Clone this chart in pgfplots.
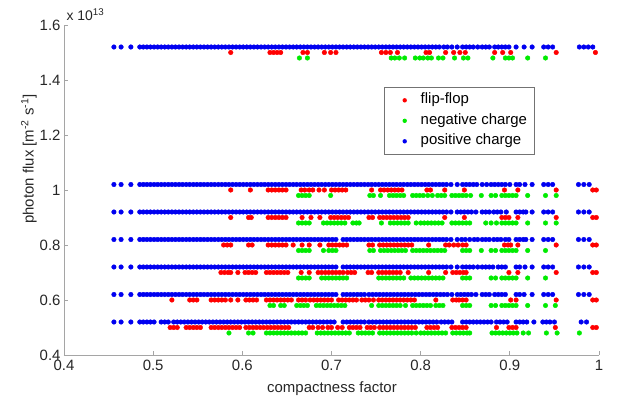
\documentclass[border=0pt]{standalone}
\usepackage{fontspec}
\setmainfont{Liberation Sans}
\usepackage{pgfplots}
\pgfplotsset{compat=1.18}
\definecolor{mred}{RGB}{255,0,0}
\definecolor{mgreen}{RGB}{0,235,0}
\definecolor{mblue}{RGB}{0,0,240}
\definecolor{axgray}{RGB}{165,165,165}
\begin{document}
\begin{tikzpicture}
\begin{axis}[
  scale only axis, width=535bp, height=330bp,
  xmin=0.4, xmax=1, ymin=0.4, ymax=1.6,
  axis x line*=bottom, axis y line*=left,
  axis line style={axgray, line width=0.9bp},
  xtick={0.4,0.5,0.6,0.7,0.8,0.9,1},
  ytick={0.4,0.6,0.8,1,1.2,1.4,1.6},
  tick align=inside, major tick length=4bp,
  tick style={axgray, line width=0.7bp},
  ticklabel style={font=\fontsize{15}{18}\selectfont, text=black!85},
  /pgf/number format/assume math mode=true,
  xticklabel style={yshift=-2bp},
  legend cell align=left,
  legend image code/.code={\path[draw=none,fill=none] (0bp,-1bp) rectangle (22bp,1bp); \fill[#1, draw=none] (14bp,0bp) circle (2.2bp);},
  legend style={at={(0.5989,0.8121)}, anchor=north west, draw=black!55, line width=0.6bp, fill=white,
    inner xsep=6bp, inner ysep=4.5bp, row sep=3.5bp, column sep=7bp,
    font=\fontsize{15}{18}\selectfont,
    nodes={inner sep=1bp, text height=11bp, text depth=4bp}},
]
% flip-flop (red)
\addplot[only marks, mark=*, mark size=2.3bp, color=mred] coordinates {
(0.587,1.5)(0.631,1.5)(0.635,1.5)(0.639,1.5)(0.643,1.5)(0.668,1.5)(0.673,1.5)(0.692,1.5)(0.699,1.5)(0.705,1.5)(0.756,1.5)(0.761,1.5)(0.766,1.5)(0.774,1.5)(0.806,1.5)(0.810,1.5)(0.828,1.5)(0.837,1.5)(0.844,1.5)(0.850,1.5)(0.883,1.5)(0.892,1.5)(0.901,1.5)(0.952,1.5)(0.996,1.5)
(0.587,1.0)(0.609,1.0)(0.629,1.0)(0.633,1.0)(0.637,1.0)(0.641,1.0)(0.645,1.0)(0.649,1.0)(0.666,1.0)(0.670,1.0)(0.675,1.0)(0.679,1.0)(0.686,1.0)(0.692,1.0)(0.700,1.0)(0.704,1.0)(0.708,1.0)(0.712,1.0)(0.716,1.0)(0.745,1.0)(0.755,1.0)(0.759,1.0)(0.763,1.0)(0.767,1.0)(0.771,1.0)(0.775,1.0)(0.779,1.0)(0.807,1.0)(0.811,1.0)(0.827,1.0)(0.849,1.0)(0.894,1.0)(0.909,1.0)(0.952,1.0)(0.993,1.0)(0.997,1.0)
(0.587,0.9)(0.607,0.9)(0.610,0.9)(0.629,0.9)(0.633,0.9)(0.637,0.9)(0.641,0.9)(0.645,0.9)(0.649,0.9)(0.667,0.9)(0.677,0.9)(0.687,0.9)(0.699,0.9)(0.703,0.9)(0.707,0.9)(0.711,0.9)(0.715,0.9)(0.719,0.9)(0.742,0.9)(0.746,0.9)(0.754,0.9)(0.758,0.9)(0.762,0.9)(0.766,0.9)(0.770,0.9)(0.774,0.9)(0.778,0.9)(0.782,0.9)(0.786,0.9)(0.827,0.9)(0.849,0.9)(0.891,0.9)(0.895,0.9)(0.899,0.9)(0.909,0.9)(0.952,0.9)(0.993,0.9)(0.997,0.9)
(0.579,0.8)(0.583,0.8)(0.587,0.8)(0.607,0.8)(0.611,0.8)(0.629,0.8)(0.633,0.8)(0.637,0.8)(0.641,0.8)(0.645,0.8)(0.649,0.8)(0.657,0.8)(0.667,0.8)(0.675,0.8)(0.687,0.8)(0.697,0.8)(0.701,0.8)(0.705,0.8)(0.709,0.8)(0.713,0.8)(0.717,0.8)(0.742,0.8)(0.746,0.8)(0.754,0.8)(0.758,0.8)(0.762,0.8)(0.766,0.8)(0.770,0.8)(0.774,0.8)(0.778,0.8)(0.782,0.8)(0.786,0.8)(0.790,0.8)(0.809,0.8)(0.828,0.8)(0.832,0.8)(0.837,0.8)(0.842,0.8)(0.847,0.8)(0.851,0.8)(0.894,0.8)(0.898,0.8)(0.901,0.8)(0.909,0.8)(0.952,0.8)(0.993,0.8)(0.997,0.8)
(0.576,0.7)(0.580,0.7)(0.584,0.7)(0.587,0.7)(0.595,0.7)(0.603,0.7)(0.607,0.7)(0.611,0.7)(0.615,0.7)(0.627,0.7)(0.631,0.7)(0.635,0.7)(0.639,0.7)(0.643,0.7)(0.647,0.7)(0.651,0.7)(0.666,0.7)(0.675,0.7)(0.685,0.7)(0.689,0.7)(0.693,0.7)(0.697,0.7)(0.701,0.7)(0.705,0.7)(0.709,0.7)(0.713,0.7)(0.718,0.7)(0.722,0.7)(0.726,0.7)(0.741,0.7)(0.745,0.7)(0.753,0.7)(0.757,0.7)(0.761,0.7)(0.765,0.7)(0.769,0.7)(0.773,0.7)(0.777,0.7)(0.786,0.7)(0.809,0.7)(0.828,0.7)(0.836,0.7)(0.840,0.7)(0.844,0.7)(0.848,0.7)(0.851,0.7)(0.899,0.7)(0.909,0.7)(0.952,0.7)(0.993,0.7)(0.997,0.7)
(0.521,0.6)(0.541,0.6)(0.545,0.6)(0.549,0.6)(0.565,0.6)(0.569,0.6)(0.573,0.6)(0.577,0.6)(0.581,0.6)(0.587,0.6)(0.595,0.6)(0.604,0.6)(0.608,0.6)(0.612,0.6)(0.616,0.6)(0.627,0.6)(0.631,0.6)(0.635,0.6)(0.639,0.6)(0.643,0.6)(0.647,0.6)(0.651,0.6)(0.655,0.6)(0.663,0.6)(0.667,0.6)(0.671,0.6)(0.676,0.6)(0.680,0.6)(0.684,0.6)(0.688,0.6)(0.692,0.6)(0.696,0.6)(0.700,0.6)(0.708,0.6)(0.712,0.6)(0.716,0.6)(0.720,0.6)(0.724,0.6)(0.728,0.6)(0.734,0.6)(0.738,0.6)(0.742,0.6)(0.747,0.6)(0.753,0.6)(0.757,0.6)(0.761,0.6)(0.765,0.6)(0.769,0.6)(0.773,0.6)(0.777,0.6)(0.781,0.6)(0.785,0.6)(0.789,0.6)(0.793,0.6)(0.817,0.6)(0.836,0.6)(0.840,0.6)(0.843,0.6)(0.847,0.6)(0.851,0.6)(0.901,0.6)(0.907,0.6)(0.952,0.6)(0.993,0.6)(0.997,0.6)
(0.519,0.5)(0.523,0.5)(0.527,0.5)(0.537,0.5)(0.541,0.5)(0.545,0.5)(0.549,0.5)(0.553,0.5)(0.565,0.5)(0.569,0.5)(0.573,0.5)(0.577,0.5)(0.581,0.5)(0.585,0.5)(0.589,0.5)(0.593,0.5)(0.597,0.5)(0.604,0.5)(0.608,0.5)(0.612,0.5)(0.616,0.5)(0.620,0.5)(0.624,0.5)(0.628,0.5)(0.632,0.5)(0.636,0.5)(0.640,0.5)(0.644,0.5)(0.648,0.5)(0.652,0.5)(0.675,0.5)(0.679,0.5)(0.685,0.5)(0.690,0.5)(0.696,0.5)(0.700,0.5)(0.707,0.5)(0.712,0.5)(0.720,0.5)(0.724,0.5)(0.728,0.5)(0.732,0.5)(0.740,0.5)(0.744,0.5)(0.748,0.5)(0.754,0.5)(0.758,0.5)(0.762,0.5)(0.766,0.5)(0.770,0.5)(0.774,0.5)(0.778,0.5)(0.782,0.5)(0.786,0.5)(0.790,0.5)(0.794,0.5)(0.807,0.5)(0.811,0.5)(0.815,0.5)(0.819,0.5)(0.835,0.5)(0.839,0.5)(0.843,0.5)(0.847,0.5)(0.851,0.5)(0.885,0.5)(0.899,0.5)(0.903,0.5)(0.907,0.5)(0.951,0.5)(0.993,0.5)(0.997,0.5)
};
\addlegendentry{flip-flop}
% negative charge (green)
\addplot[only marks, mark=*, mark size=2.3bp, color=mgreen] coordinates {
(0.664,1.48)(0.673,1.48)(0.767,1.48)(0.771,1.48)(0.776,1.48)(0.782,1.48)(0.794,1.48)(0.799,1.48)(0.803,1.48)(0.808,1.48)(0.812,1.48)(0.820,1.48)(0.825,1.48)(0.838,1.48)(0.848,1.48)(0.853,1.48)(0.881,1.48)(0.895,1.48)(0.899,1.48)(0.903,1.48)(0.920,1.48)(0.940,1.48)
(0.663,0.98)(0.667,0.98)(0.671,0.98)(0.675,0.98)(0.699,0.98)(0.743,0.98)(0.747,0.98)(0.755,0.98)(0.765,0.98)(0.769,0.98)(0.773,0.98)(0.777,0.98)(0.781,0.98)(0.791,0.98)(0.795,0.98)(0.799,0.98)(0.803,0.98)(0.808,0.98)(0.813,0.98)(0.819,0.98)(0.823,0.98)(0.827,0.98)(0.835,0.98)(0.839,0.98)(0.843,0.98)(0.847,0.98)(0.851,0.98)(0.856,0.98)(0.868,0.98)(0.879,0.98)(0.884,0.98)(0.891,0.98)(0.895,0.98)(0.899,0.98)(0.903,0.98)(0.907,0.98)(0.920,0.98)(0.940,0.98)(0.952,0.98)
(0.663,0.88)(0.667,0.88)(0.671,0.88)(0.675,0.88)(0.691,0.88)(0.695,0.88)(0.699,0.88)(0.703,0.88)(0.707,0.88)(0.711,0.88)(0.715,0.88)(0.724,0.88)(0.728,0.88)(0.731,0.88)(0.756,0.88)(0.766,0.88)(0.770,0.88)(0.774,0.88)(0.778,0.88)(0.782,0.88)(0.786,0.88)(0.795,0.88)(0.800,0.88)(0.804,0.88)(0.808,0.88)(0.812,0.88)(0.816,0.88)(0.820,0.88)(0.824,0.88)(0.835,0.88)(0.839,0.88)(0.843,0.88)(0.847,0.88)(0.851,0.88)(0.855,0.88)(0.873,0.88)(0.879,0.88)(0.885,0.88)(0.891,0.88)(0.895,0.88)(0.899,0.88)(0.903,0.88)(0.907,0.88)(0.920,0.88)(0.940,0.88)(0.952,0.88)
(0.663,0.78)(0.667,0.78)(0.671,0.78)(0.675,0.78)(0.691,0.78)(0.697,0.78)(0.701,0.78)(0.705,0.78)(0.743,0.78)(0.747,0.78)(0.755,0.78)(0.759,0.78)(0.763,0.78)(0.767,0.78)(0.771,0.78)(0.775,0.78)(0.779,0.78)(0.783,0.78)(0.791,0.78)(0.795,0.78)(0.799,0.78)(0.803,0.78)(0.807,0.78)(0.811,0.78)(0.815,0.78)(0.819,0.78)(0.823,0.78)(0.827,0.78)(0.847,0.78)(0.851,0.78)(0.855,0.78)(0.868,0.78)(0.879,0.78)(0.884,0.78)(0.891,0.78)(0.895,0.78)(0.899,0.78)(0.903,0.78)(0.907,0.78)(0.920,0.78)(0.940,0.78)
(0.663,0.68)(0.667,0.68)(0.671,0.68)(0.675,0.68)(0.689,0.68)(0.693,0.68)(0.697,0.68)(0.701,0.68)(0.705,0.68)(0.709,0.68)(0.713,0.68)(0.717,0.68)(0.753,0.68)(0.757,0.68)(0.761,0.68)(0.765,0.68)(0.769,0.68)(0.773,0.68)(0.777,0.68)(0.781,0.68)(0.789,0.68)(0.793,0.68)(0.797,0.68)(0.801,0.68)(0.805,0.68)(0.809,0.68)(0.813,0.68)(0.817,0.68)(0.821,0.68)(0.825,0.68)(0.847,0.68)(0.851,0.68)(0.855,0.68)(0.879,0.68)(0.884,0.68)(0.891,0.68)(0.895,0.68)(0.899,0.68)(0.903,0.68)(0.907,0.68)(0.920,0.68)(0.940,0.68)
(0.631,0.58)(0.635,0.58)(0.643,0.58)(0.647,0.58)(0.661,0.58)(0.665,0.58)(0.669,0.58)(0.673,0.58)(0.683,0.58)(0.687,0.58)(0.691,0.58)(0.695,0.58)(0.699,0.58)(0.703,0.58)(0.707,0.58)(0.711,0.58)(0.715,0.58)(0.745,0.58)(0.753,0.58)(0.757,0.58)(0.761,0.58)(0.765,0.58)(0.769,0.58)(0.773,0.58)(0.777,0.58)(0.783,0.58)(0.791,0.58)(0.795,0.58)(0.799,0.58)(0.803,0.58)(0.807,0.58)(0.811,0.58)(0.817,0.58)(0.821,0.58)(0.825,0.58)(0.847,0.58)(0.851,0.58)(0.855,0.58)(0.879,0.58)(0.884,0.58)(0.891,0.58)(0.895,0.58)(0.899,0.58)(0.903,0.58)(0.907,0.58)(0.920,0.58)(0.940,0.58)(0.951,0.58)
(0.585,0.48)(0.607,0.48)(0.612,0.48)(0.627,0.48)(0.631,0.48)(0.635,0.48)(0.639,0.48)(0.643,0.48)(0.647,0.48)(0.651,0.48)(0.655,0.48)(0.659,0.48)(0.663,0.48)(0.667,0.48)(0.671,0.48)(0.684,0.48)(0.688,0.48)(0.692,0.48)(0.696,0.48)(0.700,0.48)(0.704,0.48)(0.708,0.48)(0.712,0.48)(0.716,0.48)(0.720,0.48)(0.730,0.48)(0.734,0.48)(0.738,0.48)(0.742,0.48)(0.746,0.48)(0.754,0.48)(0.758,0.48)(0.762,0.48)(0.766,0.48)(0.770,0.48)(0.774,0.48)(0.778,0.48)(0.782,0.48)(0.786,0.48)(0.790,0.48)(0.795,0.48)(0.800,0.48)(0.804,0.48)(0.808,0.48)(0.812,0.48)(0.816,0.48)(0.820,0.48)(0.824,0.48)(0.828,0.48)(0.836,0.48)(0.840,0.48)(0.844,0.48)(0.848,0.48)(0.852,0.48)(0.855,0.48)(0.880,0.48)(0.884,0.48)(0.888,0.48)(0.892,0.48)(0.896,0.48)(0.900,0.48)(0.904,0.48)(0.908,0.48)(0.915,0.48)(0.921,0.48)(0.941,0.48)(0.953,0.48)(0.978,0.48)
};
\addlegendentry{negative charge}
% positive charge (blue)
\addplot[only marks, mark=*, mark size=2.3bp, color=mblue] coordinates {
(0.456,1.52)(0.464,1.52)(0.475,1.52)(0.485,1.52)(0.489,1.52)(0.493,1.52)(0.497,1.52)(0.501,1.52)(0.505,1.52)(0.509,1.52)(0.513,1.52)(0.517,1.52)(0.521,1.52)(0.525,1.52)(0.529,1.52)(0.533,1.52)(0.537,1.52)(0.541,1.52)(0.545,1.52)(0.549,1.52)(0.553,1.52)(0.557,1.52)(0.561,1.52)(0.565,1.52)(0.569,1.52)(0.573,1.52)(0.577,1.52)(0.581,1.52)(0.585,1.52)(0.589,1.52)(0.593,1.52)(0.597,1.52)(0.601,1.52)(0.605,1.52)(0.609,1.52)(0.613,1.52)(0.617,1.52)(0.621,1.52)(0.625,1.52)(0.629,1.52)(0.633,1.52)(0.637,1.52)(0.641,1.52)(0.645,1.52)(0.649,1.52)(0.653,1.52)(0.657,1.52)(0.661,1.52)(0.665,1.52)(0.669,1.52)(0.673,1.52)(0.677,1.52)(0.681,1.52)(0.685,1.52)(0.689,1.52)(0.693,1.52)(0.697,1.52)(0.701,1.52)(0.705,1.52)(0.709,1.52)(0.713,1.52)(0.717,1.52)(0.721,1.52)(0.725,1.52)(0.729,1.52)(0.733,1.52)(0.737,1.52)(0.741,1.52)(0.745,1.52)(0.749,1.52)(0.753,1.52)(0.757,1.52)(0.761,1.52)(0.765,1.52)(0.769,1.52)(0.773,1.52)(0.777,1.52)(0.781,1.52)(0.785,1.52)(0.789,1.52)(0.793,1.52)(0.797,1.52)(0.801,1.52)(0.805,1.52)(0.809,1.52)(0.813,1.52)(0.817,1.52)(0.821,1.52)
(0.826,1.52)(0.830,1.52)(0.835,1.52)(0.841,1.52)(0.847,1.52)(0.851,1.52)(0.855,1.52)(0.859,1.52)(0.864,1.52)(0.869,1.52)(0.873,1.52)(0.877,1.52)(0.883,1.52)(0.887,1.52)(0.891,1.52)(0.895,1.52)(0.899,1.52)(0.907,1.52)(0.916,1.52)(0.925,1.52)(0.938,1.52)(0.943,1.52)(0.948,1.52)(0.978,1.52)(0.983,1.52)(0.988,1.52)(0.993,1.52)
(0.456,1.02)(0.464,1.02)(0.475,1.02)(0.485,1.02)(0.489,1.02)(0.493,1.02)(0.497,1.02)(0.501,1.02)(0.505,1.02)(0.509,1.02)(0.513,1.02)(0.517,1.02)(0.521,1.02)(0.525,1.02)(0.529,1.02)(0.533,1.02)(0.537,1.02)(0.541,1.02)(0.545,1.02)(0.549,1.02)(0.553,1.02)(0.557,1.02)(0.561,1.02)(0.565,1.02)(0.569,1.02)(0.573,1.02)(0.577,1.02)(0.581,1.02)(0.585,1.02)(0.589,1.02)(0.593,1.02)(0.597,1.02)(0.601,1.02)(0.605,1.02)(0.609,1.02)(0.613,1.02)(0.617,1.02)(0.621,1.02)(0.625,1.02)(0.629,1.02)(0.633,1.02)(0.637,1.02)(0.641,1.02)(0.645,1.02)(0.649,1.02)(0.653,1.02)(0.657,1.02)(0.661,1.02)(0.665,1.02)(0.669,1.02)(0.673,1.02)(0.677,1.02)(0.681,1.02)(0.685,1.02)(0.689,1.02)(0.693,1.02)(0.697,1.02)(0.701,1.02)(0.705,1.02)(0.709,1.02)(0.713,1.02)(0.717,1.02)(0.721,1.02)(0.725,1.02)(0.729,1.02)(0.733,1.02)(0.737,1.02)(0.741,1.02)(0.745,1.02)(0.749,1.02)(0.753,1.02)(0.757,1.02)(0.761,1.02)(0.765,1.02)(0.769,1.02)(0.773,1.02)(0.777,1.02)(0.781,1.02)(0.785,1.02)(0.789,1.02)(0.793,1.02)(0.797,1.02)(0.801,1.02)(0.805,1.02)(0.809,1.02)(0.813,1.02)(0.817,1.02)(0.821,1.02)(0.825,1.02)
(0.829,1.02)(0.834,1.02)(0.841,1.02)(0.847,1.02)(0.851,1.02)(0.855,1.02)(0.859,1.02)(0.863,1.02)(0.869,1.02)(0.874,1.02)(0.879,1.02)(0.883,1.02)(0.887,1.02)(0.891,1.02)(0.895,1.02)(0.900,1.02)(0.907,1.02)(0.911,1.02)(0.917,1.02)(0.925,1.02)(0.938,1.02)(0.943,1.02)(0.948,1.02)(0.977,1.02)(0.983,1.02)(0.989,1.02)
(0.456,0.92)(0.464,0.92)(0.475,0.92)(0.485,0.92)(0.489,0.92)(0.493,0.92)(0.497,0.92)(0.501,0.92)(0.505,0.92)(0.509,0.92)(0.513,0.92)(0.517,0.92)(0.521,0.92)(0.525,0.92)(0.529,0.92)(0.533,0.92)(0.537,0.92)(0.541,0.92)(0.545,0.92)(0.549,0.92)(0.553,0.92)(0.557,0.92)(0.561,0.92)(0.565,0.92)(0.569,0.92)(0.573,0.92)(0.577,0.92)(0.581,0.92)(0.585,0.92)(0.589,0.92)(0.593,0.92)(0.597,0.92)(0.601,0.92)(0.605,0.92)(0.609,0.92)(0.613,0.92)(0.617,0.92)(0.621,0.92)(0.625,0.92)(0.629,0.92)(0.633,0.92)(0.637,0.92)(0.641,0.92)(0.645,0.92)(0.649,0.92)(0.653,0.92)(0.657,0.92)(0.661,0.92)(0.665,0.92)(0.669,0.92)(0.673,0.92)(0.677,0.92)(0.681,0.92)(0.685,0.92)(0.689,0.92)(0.693,0.92)(0.697,0.92)(0.701,0.92)(0.705,0.92)(0.709,0.92)(0.713,0.92)(0.717,0.92)(0.721,0.92)(0.725,0.92)(0.729,0.92)(0.733,0.92)(0.737,0.92)(0.741,0.92)(0.745,0.92)(0.749,0.92)(0.753,0.92)(0.757,0.92)(0.761,0.92)(0.765,0.92)(0.769,0.92)(0.773,0.92)(0.777,0.92)(0.781,0.92)(0.785,0.92)(0.789,0.92)(0.793,0.92)(0.797,0.92)(0.801,0.92)(0.805,0.92)(0.809,0.92)(0.813,0.92)(0.817,0.92)(0.821,0.92)(0.825,0.92)
(0.829,0.92)(0.834,0.92)(0.841,0.92)(0.845,0.92)(0.849,0.92)(0.853,0.92)(0.857,0.92)(0.862,0.92)(0.869,0.92)(0.873,0.92)(0.877,0.92)(0.882,0.92)(0.886,0.92)(0.890,0.92)(0.896,0.92)(0.907,0.92)(0.911,0.92)(0.915,0.92)(0.918,0.92)(0.925,0.92)(0.938,0.92)(0.943,0.92)(0.948,0.92)(0.977,0.92)(0.983,0.92)(0.989,0.92)
(0.456,0.82)(0.464,0.82)(0.475,0.82)(0.485,0.82)(0.489,0.82)(0.493,0.82)(0.497,0.82)(0.501,0.82)(0.505,0.82)(0.509,0.82)(0.513,0.82)(0.517,0.82)(0.521,0.82)(0.525,0.82)(0.529,0.82)(0.533,0.82)(0.537,0.82)(0.541,0.82)(0.545,0.82)(0.549,0.82)(0.553,0.82)(0.557,0.82)(0.561,0.82)(0.565,0.82)(0.569,0.82)(0.573,0.82)(0.577,0.82)(0.581,0.82)(0.585,0.82)(0.589,0.82)(0.593,0.82)(0.597,0.82)(0.601,0.82)(0.605,0.82)(0.609,0.82)(0.613,0.82)(0.617,0.82)(0.621,0.82)(0.625,0.82)(0.629,0.82)(0.633,0.82)(0.637,0.82)(0.641,0.82)(0.645,0.82)(0.649,0.82)(0.653,0.82)(0.657,0.82)(0.661,0.82)(0.665,0.82)(0.669,0.82)(0.673,0.82)(0.677,0.82)(0.681,0.82)(0.685,0.82)(0.689,0.82)(0.693,0.82)(0.697,0.82)(0.701,0.82)(0.705,0.82)(0.713,0.82)(0.717,0.82)(0.721,0.82)(0.725,0.82)(0.729,0.82)(0.733,0.82)(0.737,0.82)(0.741,0.82)(0.745,0.82)(0.749,0.82)(0.753,0.82)(0.757,0.82)(0.761,0.82)(0.765,0.82)(0.769,0.82)(0.773,0.82)(0.777,0.82)(0.781,0.82)(0.785,0.82)(0.789,0.82)(0.793,0.82)(0.797,0.82)(0.801,0.82)(0.805,0.82)(0.809,0.82)(0.813,0.82)(0.817,0.82)(0.821,0.82)(0.825,0.82)
(0.829,0.82)(0.834,0.82)(0.841,0.82)(0.846,0.82)(0.850,0.82)(0.855,0.82)(0.860,0.82)(0.864,0.82)(0.869,0.82)(0.873,0.82)(0.877,0.82)(0.882,0.82)(0.886,0.82)(0.890,0.82)(0.895,0.82)(0.899,0.82)(0.907,0.82)(0.911,0.82)(0.915,0.82)(0.918,0.82)(0.925,0.82)(0.938,0.82)(0.943,0.82)(0.948,0.82)(0.977,0.82)(0.983,0.82)(0.989,0.82)
(0.456,0.72)(0.464,0.72)(0.475,0.72)(0.485,0.72)(0.489,0.72)(0.493,0.72)(0.497,0.72)(0.501,0.72)(0.505,0.72)(0.509,0.72)(0.513,0.72)(0.517,0.72)(0.521,0.72)(0.525,0.72)(0.529,0.72)(0.533,0.72)(0.537,0.72)(0.541,0.72)(0.545,0.72)(0.549,0.72)(0.553,0.72)(0.557,0.72)(0.561,0.72)(0.565,0.72)(0.569,0.72)(0.573,0.72)(0.577,0.72)(0.581,0.72)(0.585,0.72)(0.589,0.72)(0.593,0.72)(0.597,0.72)(0.601,0.72)(0.605,0.72)(0.609,0.72)(0.613,0.72)(0.617,0.72)(0.621,0.72)(0.625,0.72)(0.629,0.72)(0.633,0.72)(0.637,0.72)(0.641,0.72)(0.645,0.72)(0.649,0.72)(0.653,0.72)(0.657,0.72)(0.661,0.72)(0.665,0.72)(0.669,0.72)(0.673,0.72)(0.677,0.72)(0.681,0.72)(0.685,0.72)(0.689,0.72)(0.693,0.72)(0.697,0.72)(0.701,0.72)(0.705,0.72)(0.713,0.72)(0.717,0.72)(0.721,0.72)(0.725,0.72)(0.729,0.72)(0.733,0.72)(0.737,0.72)(0.741,0.72)(0.745,0.72)(0.749,0.72)(0.753,0.72)(0.757,0.72)(0.761,0.72)(0.765,0.72)(0.769,0.72)(0.773,0.72)(0.777,0.72)(0.781,0.72)(0.785,0.72)(0.789,0.72)(0.793,0.72)(0.797,0.72)(0.801,0.72)(0.805,0.72)(0.809,0.72)(0.813,0.72)(0.817,0.72)(0.821,0.72)(0.825,0.72)
(0.829,0.72)(0.834,0.72)(0.841,0.72)(0.847,0.72)(0.851,0.72)(0.855,0.72)(0.859,0.72)(0.864,0.72)(0.869,0.72)(0.873,0.72)(0.877,0.72)(0.881,0.72)(0.887,0.72)(0.891,0.72)(0.895,0.72)(0.907,0.72)(0.911,0.72)(0.917,0.72)(0.925,0.72)(0.938,0.72)(0.943,0.72)(0.948,0.72)(0.977,0.72)(0.983,0.72)(0.989,0.72)
(0.456,0.62)(0.464,0.62)(0.475,0.62)(0.485,0.62)(0.489,0.62)(0.493,0.62)(0.497,0.62)(0.501,0.62)(0.505,0.62)(0.509,0.62)(0.513,0.62)(0.517,0.62)(0.521,0.62)(0.525,0.62)(0.529,0.62)(0.533,0.62)(0.537,0.62)(0.541,0.62)(0.545,0.62)(0.549,0.62)(0.553,0.62)(0.557,0.62)(0.561,0.62)(0.565,0.62)(0.569,0.62)(0.573,0.62)(0.577,0.62)(0.581,0.62)(0.585,0.62)(0.589,0.62)(0.593,0.62)(0.597,0.62)(0.601,0.62)(0.605,0.62)(0.609,0.62)(0.613,0.62)(0.617,0.62)(0.621,0.62)(0.625,0.62)(0.629,0.62)(0.633,0.62)(0.637,0.62)(0.641,0.62)(0.645,0.62)(0.649,0.62)(0.653,0.62)(0.657,0.62)(0.661,0.62)(0.665,0.62)(0.669,0.62)(0.673,0.62)(0.677,0.62)(0.681,0.62)(0.685,0.62)(0.689,0.62)(0.693,0.62)(0.697,0.62)(0.701,0.62)(0.705,0.62)(0.713,0.62)(0.717,0.62)(0.721,0.62)(0.725,0.62)(0.729,0.62)(0.733,0.62)(0.737,0.62)(0.742,0.62)(0.746,0.62)(0.750,0.62)(0.754,0.62)(0.758,0.62)(0.762,0.62)(0.766,0.62)(0.770,0.62)(0.774,0.62)(0.778,0.62)(0.782,0.62)(0.786,0.62)(0.790,0.62)(0.794,0.62)(0.798,0.62)(0.802,0.62)(0.806,0.62)(0.810,0.62)(0.814,0.62)(0.818,0.62)(0.822,0.62)(0.826,0.62)
(0.830,0.62)(0.835,0.62)(0.841,0.62)(0.845,0.62)(0.849,0.62)(0.853,0.62)(0.857,0.62)(0.862,0.62)(0.869,0.62)(0.873,0.62)(0.877,0.62)(0.883,0.62)(0.887,0.62)(0.891,0.62)(0.895,0.62)(0.907,0.62)(0.911,0.62)(0.916,0.62)(0.925,0.62)(0.938,0.62)(0.943,0.62)(0.948,0.62)(0.977,0.62)(0.983,0.62)(0.989,0.62)
(0.456,0.52)(0.464,0.52)(0.475,0.52)(0.485,0.52)(0.489,0.52)(0.493,0.52)(0.497,0.52)(0.501,0.52)(0.509,0.52)(0.513,0.52)(0.517,0.52)(0.523,0.52)(0.527,0.52)(0.531,0.52)(0.535,0.52)(0.539,0.52)(0.543,0.52)(0.547,0.52)(0.551,0.52)(0.555,0.52)(0.559,0.52)(0.563,0.52)(0.567,0.52)(0.571,0.52)(0.575,0.52)(0.579,0.52)(0.583,0.52)(0.587,0.52)(0.591,0.52)(0.595,0.52)(0.599,0.52)(0.603,0.52)(0.607,0.52)(0.611,0.52)(0.615,0.52)(0.619,0.52)(0.623,0.52)(0.627,0.52)(0.631,0.52)(0.635,0.52)(0.639,0.52)(0.643,0.52)(0.647,0.52)(0.651,0.52)(0.655,0.52)(0.659,0.52)(0.663,0.52)(0.667,0.52)(0.671,0.52)(0.675,0.52)(0.679,0.52)(0.683,0.52)(0.687,0.52)(0.691,0.52)(0.695,0.52)(0.699,0.52)(0.703,0.52)(0.713,0.52)(0.717,0.52)(0.721,0.52)(0.725,0.52)(0.729,0.52)(0.733,0.52)(0.737,0.52)(0.742,0.52)(0.746,0.52)(0.750,0.52)(0.754,0.52)(0.758,0.52)(0.762,0.52)(0.766,0.52)(0.770,0.52)(0.774,0.52)(0.778,0.52)(0.782,0.52)(0.786,0.52)(0.790,0.52)(0.794,0.52)(0.798,0.52)(0.802,0.52)(0.806,0.52)(0.810,0.52)(0.814,0.52)(0.818,0.52)
(0.823,0.52)(0.827,0.52)(0.831,0.52)(0.835,0.52)(0.847,0.52)(0.851,0.52)(0.855,0.52)(0.859,0.52)(0.863,0.52)(0.867,0.52)(0.871,0.52)(0.875,0.52)(0.879,0.52)(0.885,0.52)(0.889,0.52)(0.893,0.52)(0.897,0.52)(0.907,0.52)(0.911,0.52)(0.915,0.52)(0.919,0.52)(0.927,0.52)(0.937,0.52)(0.941,0.52)(0.945,0.52)(0.950,0.52)(0.980,0.52)(0.986,0.52)
};
\addlegendentry{positive charge}
\end{axis}
\node[anchor=base west, font=\fontsize{14}{16}\selectfont, text=black!85] at (-1bp,334bp) {x 10\textsuperscript{13}};
\node[anchor=base, font=\fontsize{15}{18}\selectfont, text=black!85] at (268bp,-37bp) {compactness factor};
\node[rotate=90, anchor=center, font=\fontsize{15}{18}\selectfont, text=black!85] at (-35bp,196bp) {photon flux [m\textsuperscript{-2} s\textsuperscript{-1}]};
\pgfresetboundingbox
\path (-64bp,-44bp) rectangle (565bp,355bp);
\end{tikzpicture}
\end{document}
